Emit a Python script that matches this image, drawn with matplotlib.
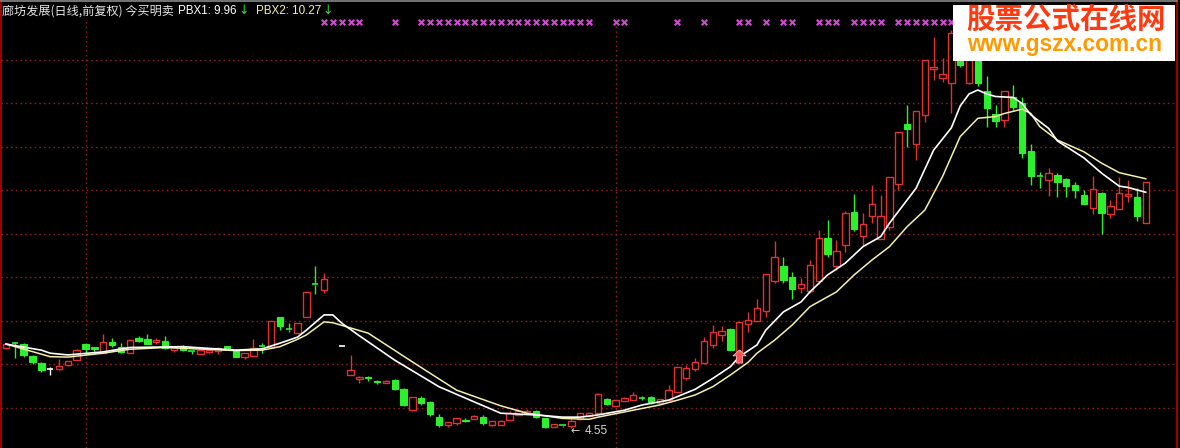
import numpy as np
import matplotlib
matplotlib.use('Agg')
import matplotlib.pyplot as plt
from matplotlib.patches import Rectangle

plt.rcParams['font.family'] = ['Noto Sans CJK SC', 'DejaVu Sans']

# ---------------- data ----------------
opens = [6.37, 6.50, 6.47, 6.20, 6.03, 5.90, 5.90, 5.99, 6.10, 6.47,
         6.40, 6.26, 6.52, 6.40, 6.26, 6.61, 6.59, 6.52, 6.54, 6.33,
         6.43, 6.31, 6.24, 6.29, 6.32, 6.42, 6.33, 6.17, 6.20, 6.42,
         6.41, 7.10, 6.81, 6.73, 7.10, 7.85, 7.71, np.nan, 6.43, 5.77,
         5.67, 5.72, 5.61, 5.57, 5.64, 5.44, 4.95, 5.24, 5.13, 4.80,
         4.61, 4.65, 4.73, 4.74, 4.79, 4.61, 4.62, 4.72, 4.84, 4.88,
         4.93, 4.76, 4.57, 4.60, 4.58, 4.74, 4.82, 4.88, 5.21, 5.05,
         5.17, 5.18, 5.24, 5.26, 5.11, 5.18, 5.37, 5.70, 5.90, 6.04,
         6.45, 6.68, 6.81, 6.30, 6.93, 7.01, 7.24, 7.92, 8.26, 8.00,
         7.77, 7.68, 7.91, 8.91, 8.26, 8.74, 9.51, 8.95, 9.41, 8.88,
         9.17, 10.14, 11.52, 11.08, 11.74, 12.79, 12.58, 12.48, 13.30, 12.48,
         13.05, 12.29, 11.76, 11.62, 12.14, 12.00, 10.90, 10.33, 10.25, 10.36,
         10.26, 10.13, 9.90, 9.59, 9.94, 9.45, 9.57, 9.87, 9.86, 9.25]
highs = [6.48, 6.52, 6.49, 6.22, 6.06, 5.95, 6.12, 6.08, 6.36, 6.47,
         6.40, 6.70, 6.61, 6.49, 6.56, 6.65, 6.70, 6.61, 6.65, 6.41,
         6.45, 6.31, 6.33, 6.36, 6.40, 6.43, 6.33, 6.26, 6.59, 6.50,
         7.01, 7.10, 6.96, 6.96, 7.66, 8.26, 8.11, np.nan, 6.43, 6.22,
         5.74, 5.74, 5.65, 5.65, 5.67, 5.46, 5.26, 5.28, 5.15, 4.86,
         4.67, 4.76, 4.77, 4.85, 4.83, 4.69, 4.73, 4.92, 4.97, 4.97,
         4.95, 4.78, 4.63, 4.62, 4.74, 4.88, 4.90, 5.34, 5.23, 5.18,
         5.26, 5.37, 5.28, 5.28, 5.21, 5.53, 5.95, 5.99, 6.16, 6.63,
         6.91, 6.88, 6.83, 6.97, 7.21, 7.50, 8.07, 8.85, 8.48, 8.13,
         7.98, 8.40, 9.09, 9.32, 8.86, 9.52, 9.93, 9.49, 10.13, 9.90,
         10.32, 11.34, 11.97, 11.83, 12.99, 13.54, 13.05, 13.70, 13.50, 13.30,
         13.30, 12.63, 11.97, 12.29, 12.43, 12.14, 11.07, 10.43, 10.52, 10.41,
         10.28, 10.20, 10.01, 10.33, 9.96, 9.78, 10.32, 10.24, 10.05, 10.19]
lows = [6.37, 6.15, 6.17, 6.01, 5.83, 5.76, 5.88, 5.96, 6.10, 6.22,
        6.24, 6.26, 6.40, 6.26, 6.26, 6.52, 6.47, 6.47, 6.36, 6.29,
        6.31, 6.24, 6.24, 6.27, 6.24, 6.36, 6.18, 6.12, 6.20, 6.27,
        6.41, 6.79, 6.75, 6.73, 7.10, 7.62, 7.64, np.nan, 6.43, 5.77,
        5.58, 5.63, 5.55, 5.57, 5.41, 5.05, 4.93, 5.07, 4.82, 4.57,
        4.57, 4.60, 4.68, 4.74, 4.61, 4.58, 4.60, 4.72, 4.84, 4.88,
        4.77, 4.53, 4.57, 4.57, 4.55, 4.72, 4.80, 4.86, 5.07, 5.05,
        5.15, 5.18, 5.19, 5.10, 5.11, 5.18, 5.37, 5.64, 5.84, 6.00,
        6.37, 6.53, 6.33, 6.25, 6.75, 7.00, 7.10, 7.87, 7.88, 7.50,
        7.64, 7.64, 7.85, 8.48, 8.17, 8.59, 9.06, 8.72, 9.26, 8.88,
        9.10, 10.01, 11.01, 10.70, 11.58, 12.54, 12.50, 11.78, 12.85, 12.45,
        12.40, 11.46, 11.45, 11.47, 11.85, 10.74, 10.13, 10.05, 9.87, 9.86,
        9.86, 9.83, 9.69, 9.47, 9.01, 9.36, 9.57, 9.74, 9.29, 9.25]
closes = [6.48, 6.49, 6.22, 6.05, 5.87, 5.90, 5.97, 6.08, 6.33, 6.36,
          6.36, 6.52, 6.45, 6.29, 6.56, 6.54, 6.47, 6.56, 6.39, 6.41,
          6.33, 6.30, 6.33, 6.34, 6.39, 6.38, 6.18, 6.26, 6.38, 6.40,
          7.01, 6.88, 6.80, 6.96, 7.66, 7.83, 7.96, np.nan, 6.43, 5.87,
          5.72, 5.68, 5.59, 5.62, 5.44, 5.07, 5.26, 5.12, 4.86, 4.61,
          4.67, 4.76, 4.71, 4.82, 4.66, 4.69, 4.71, 4.88, 4.92, 4.93,
          4.79, 4.57, 4.63, 4.59, 4.70, 4.88, 4.88, 5.32, 5.09, 5.18,
          5.22, 5.31, 5.23, 5.14, 5.21, 5.41, 5.95, 5.91, 6.05, 6.54,
          6.74, 6.77, 6.33, 6.97, 7.02, 7.31, 8.07, 8.46, 7.94, 7.74,
          7.84, 8.29, 8.90, 8.53, 8.61, 9.49, 9.11, 9.23, 9.68, 9.41,
          10.32, 11.34, 11.41, 11.83, 12.99, 12.83, 12.68, 13.61, 12.88, 13.00,
          12.47, 11.90, 11.60, 12.29, 11.91, 10.87, 10.34, 10.31, 10.41, 10.20,
          10.10, 10.01, 9.69, 10.03, 9.49, 9.64, 9.95, 9.93, 9.41, 10.19]

pbx1_idx = [0, 4, 5, 7, 11, 14, 20, 26, 29, 31, 33, 34, 36, 37, 38, 40, 44, 49,
            53, 56, 60, 63, 65, 67, 70, 72, 75, 78, 80, 82, 83, 85, 86, 88, 90,
            91, 93, 95, 97, 99, 100, 103, 105, 107, 108, 109, 110, 111, 112,
            114, 115, 116, 118, 119, 122, 124, 126, 127, 129]
pbx1_val = [6.47, 6.33, 6.26, 6.22, 6.29, 6.39, 6.41, 6.33, 6.36, 6.49, 6.63,
            6.79, 7.14, 7.14, 6.95, 6.66, 6.10, 5.49, 5.14, 4.88, 4.84, 4.79,
            4.79, 4.84, 4.95, 5.07, 5.18, 5.43, 5.68, 5.95, 6.18, 6.45, 6.79,
            7.21, 7.44, 7.67, 8.06, 8.33, 8.71, 8.94, 9.25, 10.05, 10.93, 11.44,
            11.94, 12.22, 12.31, 12.22, 12.16, 12.14, 12.00, 11.74, 11.43, 11.14,
            10.75, 10.40, 10.10, 10.07, 9.96]
pbx2_idx = [0, 5, 7, 11, 14, 18, 26, 29, 31, 33, 34, 36, 37, 39, 41, 46, 51, 56,
            59, 63, 66, 67, 70, 74, 76, 78, 80, 82, 84, 85, 87, 89, 91, 94, 96,
            98, 100, 102, 104, 106, 108, 110, 112, 113, 115, 116, 117, 119, 122,
            124, 126, 129]
pbx2_val = [6.47, 6.18, 6.17, 6.26, 6.35, 6.39, 6.32, 6.33, 6.41, 6.58, 6.68,
            6.98, 6.96, 6.84, 6.72, 6.06, 5.41, 5.05, 4.88, 4.76, 4.74, 4.79,
            4.91, 5.07, 5.18, 5.30, 5.49, 5.76, 6.05, 6.26, 6.56, 6.91, 7.33,
            7.67, 8.06, 8.40, 8.71, 9.17, 9.55, 10.32, 11.24, 11.66, 11.70,
            11.77, 11.87, 11.77, 11.47, 11.16, 10.89, 10.63, 10.41, 10.27]

mark_idx = [36, 37, 38, 39, 40, 44] + list(range(47, 67)) + [69, 70, 76, 79, 83, 84,
            86, 88, 89, 92, 93, 94, 96, 97, 98, 99, 101, 102, 103, 104, 105, 106, 107]
buy_idx = [83]
grid_prices = [5, 6, 7, 8, 9, 10, 11, 12, 13]
vgrid_idx = [9, 69]

title_main = "廊坊发展(日线,前复权) 今买明卖"
pbx1_label = "PBX1: 9.96"
pbx2_label = "PBX2: 10.27"
low_label_idx = 64

# ---------------- figure ----------------
W, H = 1180, 448
fig = plt.figure(figsize=(W / 100, H / 100), dpi=100, facecolor='black')
ax = fig.add_axes([1 / W, 0, 1176 / W, 447 / H])
ax.set_facecolor('black')
ax.set_xlim(-5 / 8.835, 1171 / 8.835)
ax.set_ylim(5 - 40 / 43.5, 5 + 407 / 43.5)
ax.set_xticks([])
ax.set_yticks([])
ax.spines['bottom'].set_visible(False)
ax.spines['left'].set_color('#c00000')
ax.spines['right'].set_color('#c00000')
ax.spines['top'].set_color('#888888')
for s in ['left', 'right', 'top']:
    ax.spines[s].set_linewidth(1.2)

# grid
for p in grid_prices:
    ax.axhline(p, color='#8a2020', lw=1.0, ls=(0, (1.2, 2.2)), zorder=0)
ytop_grid = 5 + (408 - 18) / 43.5
for v in vgrid_idx:
    ax.vlines(v, ax.get_ylim()[0], ytop_grid, color='#8a2020', lw=1.0,
              ls=(0, (1.2, 2.2)), zorder=0)

RED = '#e03232'
GREEN = '#2cf02c'
bw = 0.72
o = np.array(opens); h = np.array(highs); l = np.array(lows); c = np.array(closes)
x = np.arange(len(o))
for i in x:
    if np.isnan(o[i]):
        continue
    if c[i] > o[i]:
        col = RED
    elif c[i] < o[i]:
        col = GREEN
    else:
        col = 'white'
    top = max(o[i], c[i]); bot = min(o[i], c[i])
    ax.vlines(i, top, h[i], color=col, lw=1.0, zorder=3)
    ax.vlines(i, l[i], bot, color=col, lw=1.0, zorder=3)
    if top - bot < 0.02:
        ax.hlines(o[i], i - bw / 2, i + bw / 2, color=col, lw=1.2, zorder=4)
    elif col == RED:
        ax.bar(i, top - bot, bottom=bot, width=bw, facecolor='black',
               edgecolor=RED, lw=1.0, zorder=4)
    else:
        ax.bar(i, top - bot, bottom=bot, width=bw, facecolor=GREEN,
               edgecolor=GREEN, lw=0.8, zorder=4)

# waterfall lines
ax.plot(pbx2_idx, pbx2_val, color='#f4f0a8', lw=1.1, zorder=5)
ax.plot(pbx1_idx, pbx1_val, color='white', lw=1.2, zorder=5)

# magenta signal markers on top row
ymark = 5 + (408 - 22.5) / 43.5
ax.scatter(mark_idx, [ymark] * len(mark_idx), marker='x', s=16, color='#d24ad2',
           lw=1.5, zorder=6)

# buy arrow
arrow = [(0, 1), (-1, 0.1), (-0.45, 0.1), (-0.45, -1), (0.45, -1), (0.45, 0.1),
         (1, 0.1), (0, 1)]
for b in buy_idx:
    ax.scatter([b], [l[b] - 0.05], marker=arrow, s=90, color='#ff5050',
               edgecolor='#ffb0b0', lw=0.6, zorder=7)

# low label
lv = l[low_label_idx]
ax.text(low_label_idx - 0.05, lv - 0.08, '←', color='#d0d0d0', fontsize=8,
        family=['DejaVu Sans'], ha='left', va='center', zorder=7)
ax.text(low_label_idx + 1.45, lv - 0.08, f'{lv:.2f}', color='#d0d0d0', fontsize=8.6,
        family=['Liberation Sans', 'DejaVu Sans'], ha='left', va='center', zorder=7)

# title
def ftxt(px, py, s, **kw):
    fig.text(px / W, 1 - py / H, s, va='center', ha='left', **kw)

ftxt(2, 11, title_main, color='#e6e6e6', fontsize=8.7)
ftxt(178, 11, pbx1_label, color='white', fontsize=8.4,
     family=['Liberation Sans', 'DejaVu Sans'])
ftxt(238, 11, '↓', color='#33dd33', fontsize=9, family=['DejaVu Sans'])
ftxt(256, 11, pbx2_label, color='#f4f0b0', fontsize=8.4,
     family=['Liberation Sans', 'DejaVu Sans'])
ftxt(322, 11, '↓', color='#33dd33', fontsize=9, family=['DejaVu Sans'])

# watermark
fig.patches.append(Rectangle((953 / W, 1 - 61 / H), 222 / W, 56 / H,
                             transform=fig.transFigure, facecolor='white',
                             edgecolor='none', zorder=10))
fig.text(1066 / W, 1 - 20 / H, '股票公式在线网', color='#ff3a10', fontsize=20.5,
         fontweight='bold', ha='center', va='center', zorder=11)
fig.text(1065 / W, 1 - 45 / H, 'www.gszx.com.cn', color='#ff9a00', fontsize=16.4,
         fontweight='bold', family=['Liberation Sans', 'DejaVu Sans'],
         ha='center', va='center', zorder=11)

fig.savefig('out.png', dpi=100, facecolor='black')
